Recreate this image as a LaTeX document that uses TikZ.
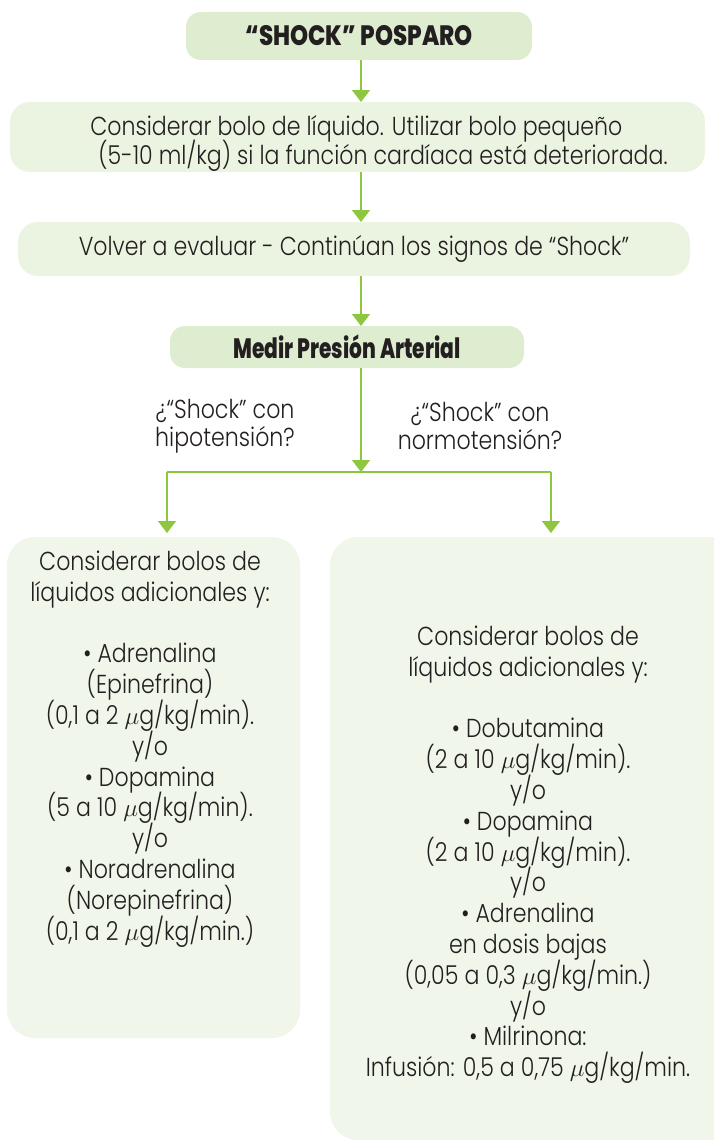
\documentclass[tikz,border=0pt]{standalone}
\usepackage{fontspec}
\setmainfont{Poppins}
\newfontfamily\bodyfam{Poppins Light}[FakeStretch=0.85]
\newfontfamily\headfam{Poppins ExtraBold}[FakeStretch=0.82]
\newfontfamily\headcondfam{Poppins ExtraBold}[FakeStretch=0.72]
\usetikzlibrary{arrows.meta}
\definecolor{darkg}{RGB}{222,237,207}
\definecolor{lightg}{RGB}{234,244,225}
\definecolor{paleg}{RGB}{240,246,233}
\definecolor{arrowg}{RGB}{141,198,63}
\definecolor{txt}{RGB}{35,31,32}
\newcommand{\tightlines}{\lineskiplimit=-30pt\lineskip=0pt}
\newcommand{\bodyfont}{\bodyfam\fontsize{26}{30.8}\selectfont\tightlines}
\newcommand{\labelfont}{\bodyfam\fontsize{26}{28}\selectfont\tightlines}
\newcommand{\bolofont}{\bodyfam\fontsize{26}{29}\selectfont\tightlines}
\newcommand{\headfont}{\headfam\fontsize{28}{30}\selectfont}
\newcommand{\headcondfont}{\headcondfam\fontsize{28}{30}\selectfont}
\begin{document}
\begin{tikzpicture}[x=1pt,y=-1pt,
  base/.style={inner sep=0pt, outer sep=0pt, text=txt},
  darkbox/.style={base, fill=darkg, rounded corners=15pt, font=\headfont},
  lightbox/.style={base, fill=lightg, rounded corners=20pt, font=\bodyfont},
  palebox/.style={base, fill=paleg, rounded corners=28pt},
  body/.style={base, font=\bodyfont, align=center},
  qlabel/.style={base, font=\labelfont, align=center},
  flow/.style={draw=arrowg, line width=1.5pt, -{Triangle[width=18pt,length=12pt]}},
  link/.style={draw=arrowg, line width=1.5pt},
]
\useasboundingbox (0,0) rectangle (714,1140);
\clip (0,0) rectangle (714,1140);
% boxes
\node[darkbox, minimum width=346pt, minimum height=48pt] (title) at (359,36) {“SHOCK” POSPARO};
\node[lightbox, minimum width=695pt, minimum height=70pt] (bolo) at (357.5,137) {};
\node[body, align=left, font=\bolofont] (bolotxt) at (379,143) {Considerar bolo de líquido. Utilizar bolo pequeño\\\hspace*{8pt}(5-10 ml/kg) si la función cardíaca está deteriorada.};
\node[lightbox, minimum width=672pt, minimum height=54pt] (eval) at (354,249) {Volver a evaluar - Continúan los signos de “Shock”};
\node[darkbox, minimum width=354pt, minimum height=42pt, font=\headcondfont] (pa) at (347,347) {Medir Presión Arterial};
\node[palebox, minimum width=293pt, minimum height=501pt] (left) at (153.5,787.5) {};
\node[palebox, minimum width=410pt, minimum height=603pt] (right) at (535,838.5) {};
% texts in tall boxes
\node[body, anchor=north] (lefttxt) at (150,551) {Considerar bolos de\\líquidos adicionales y:\\[30.8pt]
• Adrenalina\\(Epinefrina)\\(0,1 a 2 $\mu$g/kg/min).\\y/o\\• Dopamina\\(5 a 10 $\mu$g/kg/min).\\y/o\\• Noradrenalina\\(Norepinefrina)\\(0,1 a 2 $\mu$g/kg/min.)};
\node[body, anchor=north] (righttxt) at (528,626) {Considerar bolos de\\líquidos adicionales y:\\[30.8pt]
• Dobutamina\\(2 a 10 $\mu$g/kg/min).\\y/o\\• Dopamina\\(2 a 10 $\mu$g/kg/min).\\y/o\\• Adrenalina\\en dosis bajas\\(0,05 a 0,3 $\mu$g/kg/min.)\\y/o\\• Milrinona:\\Infusión: 0,5 a 0,75 $\mu$g/kg/min.};
% branch labels
\node[qlabel] (hipo) at (225,426) {¿“Shock” con\\hipotensión?};
\node[qlabel] (normo) at (480,426) {¿“Shock” con\\normotensión?};
% connectors
\coordinate (col) at (361,0);
\coordinate (split) at (361,472);
\coordinate (lturn) at (167,472);
\coordinate (rturn) at (551,472);
\coordinate (lend) at (167,533);
\coordinate (rend) at (551,533);
\draw[flow] (title.south -| col) -- (bolo.north -| col);
\draw[flow] (bolo.south -| col) -- (eval.north -| col);
\draw[flow] (eval.south -| col) -- (pa.north -| col);
\draw[flow] (pa.south -| col) -- (split);
\draw[link] (lturn) -- (rturn);
\draw[flow] (lturn) -- (lend);
\draw[flow] (rturn) -- (rend);
\end{tikzpicture}
\end{document}
